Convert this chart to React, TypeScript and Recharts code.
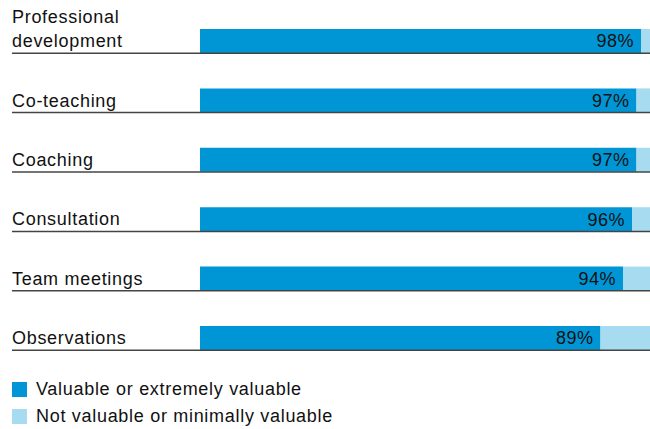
import React from 'react';
import { BarChart, Bar, XAxis, YAxis, LabelList } from 'recharts';

const categories = ['Professional\ndevelopment', 'Co-teaching', 'Coaching', 'Consultation', 'Team meetings', 'Observations'];
const valuable = [98, 97, 97, 96, 94, 89];
const notValuable = [2, 3, 3, 4, 6, 11];
const seriesNames = ['Valuable or extremely valuable', 'Not valuable or minimally valuable'];

const data = categories.map((name, i) => ({
  name,
  valuable: valuable[i],
  notValuable: notValuable[i],
}));

const FONT = '"Liberation Sans", Arial, Helvetica, sans-serif';
const DARK = '#0096d6';
const LIGHT = '#a6dbf0';

const CategoryTick = (props: any) => {
  const { y, payload } = props;
  const lines: string[] = String(payload.value).split('\n');
  const n = lines.length;
  return (
    <g>
      {lines.map((line, i) => (
        <text
          key={i}
          x={12}
          y={y - (n - 1 - i) * 24}
          dy="0.36em"
          fontSize={18}
          letterSpacing={0.7}
          fill="#111"
          fontFamily={FONT}
          textAnchor="start"
        >
          {line}
        </text>
      ))}
      <line x1={12} x2={650} y1={y + 12.5} y2={y + 12.5} stroke="#444" strokeWidth={1.5} />
    </g>
  );
};

const App: React.FC = () => {
  return (
    <div style={{ position: 'absolute', left: 0, top: 0, width: 650, height: 429, background: '#fff', fontFamily: FONT }}>
      <BarChart
        width={650}
        height={380}
        data={data}
        layout="vertical"
        margin={{ top: 11, right: 0, left: 0, bottom: 12.6 }}
        barCategoryGap={0}
      >
        <XAxis type="number" domain={[0, 100]} hide />
        <YAxis
          type="category"
          dataKey="name"
          width={200}
          axisLine={false}
          tickLine={false}
          tick={<CategoryTick />}
          interval={0}
        />
        <Bar dataKey="valuable" stackId="a" fill={DARK} barSize={24} isAnimationActive={false}>
          <LabelList
            dataKey="valuable"
            position="insideRight"
            offset={7}
            formatter={(v: any) => `${v}%`}
            style={{ fontSize: 18, letterSpacing: 0.5, fill: '#111', fontFamily: FONT }}
          />
        </Bar>
        <Bar dataKey="notValuable" stackId="a" fill={LIGHT} barSize={24} isAnimationActive={false} />
      </BarChart>
      <div style={{ position: 'absolute', left: 12, top: 376 }}>
        {seriesNames.map((s, i) => (
          <div key={s} style={{ display: 'flex', alignItems: 'center', height: 27, fontSize: 18, letterSpacing: 0.7, color: '#111' }}>
            <span style={{ display: 'inline-block', width: 15, height: 15, background: i === 0 ? DARK : LIGHT, marginRight: 9 }} />
            {s}
          </div>
        ))}
      </div>
    </div>
  );
};

export default App;
